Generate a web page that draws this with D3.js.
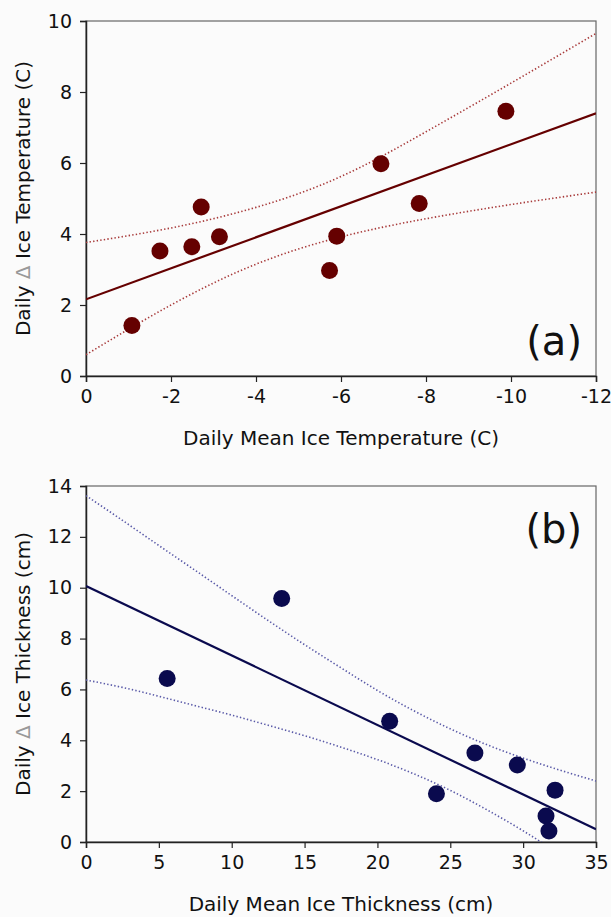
<!DOCTYPE html>
<html>
<head>
<meta charset="utf-8">
<script src="https://cdn.jsdelivr.net/npm/d3@7"></script>
<style>
  body { margin: 0; background: #fbfbfb; }
  svg { display: block; }
  .tick text { font-family: "DejaVu Sans", Verdana, sans-serif; font-size: 19px; fill: #111; }
  .title { font-family: "DejaVu Sans", Verdana, sans-serif; font-size: 20px; fill: #111; }
  .tag { font-family: "DejaVu Sans", Verdana, sans-serif; font-size: 40px; fill: #111; }
</style>
</head>
<body>
<svg width="611" height="917"></svg>
<script>
// panel (a): ice temperature
const tempX = [-1.08, -1.74, -2.49, -2.71, -3.14, -5.73, -5.90, -6.94, -7.84, -9.88];
const tempY = [1.42, 3.52, 3.64, 4.76, 3.92, 2.97, 3.94, 5.98, 4.86, 7.46];
const tempFitX = [0, -12];
const tempFitY = [2.16, 7.40];
const tempBandX = [0, -2, -4, -6, -8, -10, -12];
const tempUpper = [3.76, 4.17, 4.75, 5.62, 6.88, 8.25, 9.65];
const tempLower = [0.60, 2.00, 3.15, 3.92, 4.43, 4.83, 5.18];
const tempXTicks = [0, -2, -4, -6, -8, -10, -12];
const tempYTicks = [0, 2, 4, 6, 8, 10];

// panel (b): ice thickness
const thickX = [5.57, 13.43, 20.84, 24.05, 26.69, 29.60, 32.19, 31.57, 31.77];
const thickY = [6.43, 9.58, 4.75, 1.90, 3.50, 3.03, 2.04, 1.02, 0.43];
const thickFitX = [0, 35];
const thickFitY = [10.07, 0.50];
const thickBandX = [0, 2.5, 5, 7.5, 10, 12.5, 15, 17.5, 20, 22.5, 25, 27.5, 30, 32.5, 35];
const thickUpper = [13.62, 12.65, 11.66, 10.68, 9.69, 8.71, 7.76, 6.85, 5.96, 5.16, 4.45, 3.83, 3.30, 2.83, 2.40];
const thickLower = [6.37, 6.08, 5.73, 5.36, 4.99, 4.59, 4.18, 3.73, 3.24, 2.68, 2.03, 1.27, 0.44, -0.47, -1.40];
const thickXTicks = [0, 5, 10, 15, 20, 25, 30, 35];
const thickYTicks = [0, 2, 4, 6, 8, 10, 12, 14];

const svg = d3.select("svg");

function drawPanel(p) {
  const x = d3.scaleLinear().domain(p.xDomain).range([86, 596]);
  const y = d3.scaleLinear().domain(p.yDomain).range([p.bottom, p.top]);
  const g = svg.append("g");

  g.append("clipPath").attr("id", p.id + "-clip")
    .append("rect")
    .attr("x", x.range()[0]).attr("y", p.top)
    .attr("width", x.range()[1] - x.range()[0])
    .attr("height", p.bottom - p.top);

  // box
  g.append("rect")
    .attr("x", x.range()[0]).attr("y", p.top)
    .attr("width", x.range()[1] - x.range()[0])
    .attr("height", p.bottom - p.top)
    .attr("fill", "none")
    .attr("stroke", "#666")
    .attr("stroke-width", 1.2);

  const xAxis = g.append("g")
    .attr("transform", `translate(0,${p.bottom})`)
    .call(d3.axisBottom(x).tickValues(p.xTicks).tickSize(6).tickPadding(8).tickFormat(d => String(d)));
  const yAxis = g.append("g")
    .attr("transform", `translate(${x.range()[0]},0)`)
    .call(d3.axisLeft(y).tickValues(p.yTicks).tickSize(6).tickPadding(8));
  [xAxis, yAxis].forEach(a => {
    a.select(".domain").attr("stroke", "#222").attr("stroke-width", 1.5);
    a.selectAll(".tick line").attr("stroke", "#222").attr("stroke-width", 1.2);
  });

  const plot = g.append("g").attr("clip-path", `url(#${p.id}-clip)`);

  const curve = d3.line()
    .x((d, i) => x(p.bandX[i]))
    .y(d => y(d))
    .curve(d3.curveNatural);

  [p.upper, p.lower].forEach(band => {
    plot.append("path")
      .attr("d", curve(band))
      .attr("fill", "none")
      .attr("stroke", p.bandColor)
      .attr("stroke-width", 1.6)
      .attr("stroke-dasharray", "1.4,2.2");
  });

  plot.append("path")
    .attr("d", d3.line().x((d, i) => x(p.fitX[i])).y(d => y(d))(p.fitY))
    .attr("fill", "none")
    .attr("stroke", p.color)
    .attr("stroke-width", 2.2);

  g.selectAll(".pt")
    .data(p.xs)
    .enter().append("circle")
    .attr("cx", d => x(d))
    .attr("cy", (d, i) => y(p.ys[i]))
    .attr("r", 8.5)
    .attr("fill", p.color);

  g.append("text")
    .attr("class", "title")
    .attr("text-anchor", "middle")
    .attr("x", (x.range()[0] + x.range()[1]) / 2)
    .attr("y", p.bottom + 69)
    .text(p.xTitle);

  const yt = g.append("text")
    .attr("class", "title")
    .attr("text-anchor", "middle")
    .attr("transform", `translate(30,${(p.top + p.bottom) / 2}) rotate(-90)`);
  yt.append("tspan").text("Daily ");
  yt.append("tspan").attr("fill", "#999").text("\u0394");
  yt.append("tspan").text(" " + p.yTitle);

  g.append("text")
    .attr("class", "tag")
    .attr("text-anchor", "end")
    .attr("x", 582)
    .attr("y", p.tagY)
    .text(p.tag);
}

drawPanel({
  id: "a", top: 21, bottom: 376,
  xDomain: [0, -12], yDomain: [0, 10],
  xTicks: tempXTicks, yTicks: tempYTicks,
  xs: tempX, ys: tempY,
  fitX: tempFitX, fitY: tempFitY,
  bandX: tempBandX, upper: tempUpper, lower: tempLower,
  color: "#650000", bandColor: "#a83a3a",
  xTitle: "Daily Mean Ice Temperature (C)",
  yTitle: "Ice Temperature (C)",
  tag: "(a)", tagY: 355
});

drawPanel({
  id: "b", top: 486, bottom: 842,
  xDomain: [0, 35], yDomain: [0, 14],
  xTicks: thickXTicks, yTicks: thickYTicks,
  xs: thickX, ys: thickY,
  fitX: thickFitX, fitY: thickFitY,
  bandX: thickBandX, upper: thickUpper, lower: thickLower,
  color: "#0a0a4e", bandColor: "#5a5aa8",
  xTitle: "Daily Mean Ice Thickness (cm)",
  yTitle: "Ice Thickness (cm)",
  tag: "(b)", tagY: 543
});
</script>
</body>
</html>
